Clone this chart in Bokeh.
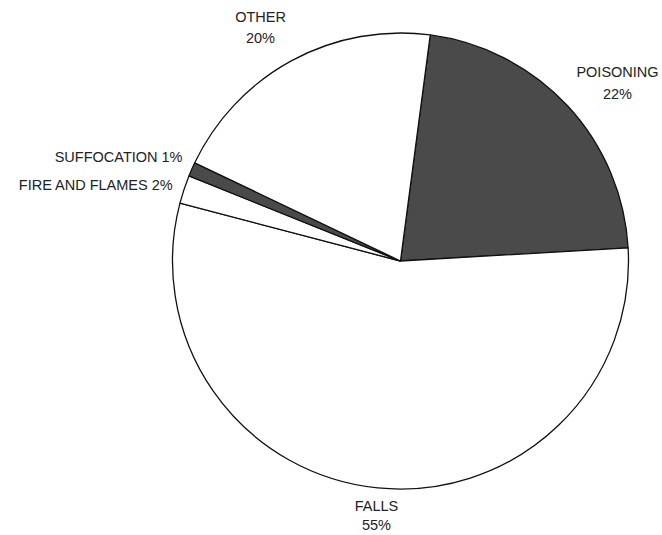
import math

from bokeh.core.properties import value
from bokeh.embed import file_html
from bokeh.models import Range1d
from bokeh.plotting import figure
from bokeh.resources import INLINE

# Share of injuries by cause (percent)
categories = ["POISONING", "FALLS", "FIRE AND FLAMES", "SUFFOCATION", "OTHER"]
percents = [22, 55, 2, 1, 20]
fills = ["#4a4a4a", "#ffffff", "#ffffff", "#4a4a4a", "#ffffff"]

W, H = 662, 535
CX, CY, R = 400, H - 260.5, 228
START_DEG = 82.5  # slices run clockwise from here

# slice angles (anticlockwise start/end in radians)
starts, ends = [], []
cum = 0.0
for pct in percents:
    a_hi = START_DEG - cum * 3.6
    cum += pct
    a_lo = START_DEG - cum * 3.6
    starts.append(math.radians(a_lo))
    ends.append(math.radians(a_hi))

p = figure(width=W, height=H, output_backend="svg", toolbar_location=None,
           x_range=Range1d(0, W), y_range=Range1d(0, H),
           min_border=0, outline_line_color=None)
p.axis.visible = False
p.grid.visible = False
p.background_fill_color = "white"
p.border_fill_color = "white"

p.wedge(x=[CX] * len(percents), y=[CY] * len(percents), radius=R,
        start_angle=starts, end_angle=ends,
        fill_color=fills, line_color="#111111", line_width=1.3)

font = value("Liberation Sans")
txt = dict(text_font=font, text_font_size="14.5px", text_color="#222222",
           text_baseline="middle")

# two-line labels: name above, percentage below
stacked = {"OTHER": (260, 16, 37), "POISONING": (617, 71, 93), "FALLS": (376, 505, 524)}
for name, pct in zip(categories, percents):
    if name in stacked:
        x, y1, y2 = stacked[name]
        p.text(x=[x, x], y=[H - y1, H - y2], text=[name, f"{pct}%"],
               text_align="center", **txt)

# single-line labels beside the thin slices
inline = {"SUFFOCATION": (182, 156), "FIRE AND FLAMES": (173, 184)}
for name, pct in zip(categories, percents):
    if name in inline:
        x, y = inline[name]
        p.text(x=[x], y=[H - y], text=[f"{name} {pct}%"], text_align="right", **txt)

open("out.html", "w").write(file_html(p, INLINE))
